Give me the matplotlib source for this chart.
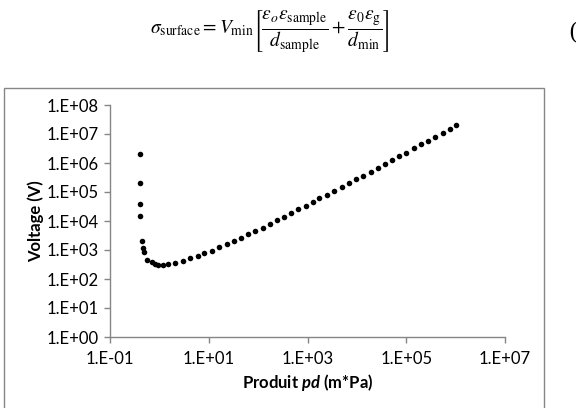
import matplotlib
matplotlib.use('Agg')
import matplotlib.pyplot as plt
import numpy as np
from matplotlib.patches import Rectangle
from matplotlib.ticker import FixedLocator, FuncFormatter, NullLocator

# Courbe de Paschen
pd_values = [0.40, 0.40, 0.40, 0.40, 0.44, 0.46, 0.49, 0.57, 0.70, 0.81, 0.95,
             1.2, 1.5, 2.1, 3.0, 4.2, 6.0, 8.2,
             11.6, 16.3, 23, 32, 45, 63, 87,
             123, 171, 240, 333, 468, 649, 916,
             1270, 1730, 2510, 3480, 4900, 6890, 9550,
             1.34e4, 1.89e4, 2.62e4, 3.69e4, 5.19e4, 7.18e4,
             1.01e5, 1.41e5, 1.98e5, 2.78e5, 3.85e5, 5.43e5, 7.64e5, 1.04e6]
voltage = [2.0e6, 2.0e5, 3.8e4, 1.44e4, 2.1e3, 1.16e3, 838, 467, 376, 330, 313,
           305, 320, 366, 430, 518, 618, 767,
           961, 1250, 1590, 2030, 2660, 3470, 4520,
           5940, 7930, 1.07e4, 1.39e4, 1.87e4, 2.52e4, 3.36e4,
           4.52e4, 6.08e4, 8.1e4, 1.09e5, 1.47e5, 2.03e5, 2.70e5,
           3.64e5, 5.0e5, 6.75e5, 9.3e5, 1.24e6, 1.71e6,
           2.30e6, 3.17e6, 4.38e6, 5.89e6, 8.1e6, 1.12e7, 1.49e7, 2.06e7]

x_ticks = [1e-1, 1e1, 1e3, 1e5, 1e7]
y_ticks = [1e0, 1e1, 1e2, 1e3, 1e4, 1e5, 1e6, 1e7, 1e8]

W, H = 576, 408
axis_grey = '#868686'

plt.rcParams['font.family'] = ['Lato', 'DejaVu Sans']
plt.rcParams['mathtext.fontset'] = 'stix'
# police "custom" seulement pour le pd italique gras de l'etiquette x
plt.rcParams['mathtext.bf'] = 'Lato:italic:bold'
plt.rcParams['mathtext.rm'] = 'Lato:bold'

fig = plt.figure(figsize=(W / 100, H / 100), dpi=100)

# equation du document au-dessus du graphique
fig.text(270 / W, 1 - 32 / H,
         r'$\sigma_{\mathrm{surface}} = V_{\mathrm{min}}'
         r'\left[\dfrac{\varepsilon_o\varepsilon_{\mathrm{sample}}}{d_{\mathrm{sample}}}'
         r' + \dfrac{\varepsilon_0\varepsilon_{\mathrm{g}}}{d_{\mathrm{min}}}\right]$',
         ha='center', va='center', fontsize=14)
fig.text(568 / W, 1 - 32 / H, '(', ha='left', va='center', fontsize=16,
         family='DejaVu Serif')

# cadre du graphique
fig.add_artist(Rectangle((4 / W, -0.02), (544 - 4) / W, 1 - 88 / H + 0.02,
                         transform=fig.transFigure, fill=False,
                         edgecolor=axis_grey, linewidth=1.0))

left, right, top, bottom = 110, 505, 105, 337
ax = fig.add_axes([left / W, 1 - bottom / H, (right - left) / W, (bottom - top) / H])

ax.plot(pd_values, voltage, 'o', color='black', markersize=4, markeredgewidth=0)

ax.set_xscale('log')
ax.set_yscale('log')
ax.set_xlim(1e-1, 1e7)
ax.set_ylim(1e0, 1e8)

fmt = FuncFormatter(lambda v, pos: '1.E%+03d' % int(round(np.log10(v))))
ax.xaxis.set_major_locator(FixedLocator(x_ticks))
ax.yaxis.set_major_locator(FixedLocator(y_ticks))
ax.xaxis.set_minor_locator(NullLocator())
ax.yaxis.set_minor_locator(NullLocator())
ax.xaxis.set_major_formatter(fmt)
ax.yaxis.set_major_formatter(fmt)

for side in ['top', 'right']:
    ax.spines[side].set_visible(False)
for side in ['left', 'bottom']:
    ax.spines[side].set_color(axis_grey)
    ax.spines[side].set_linewidth(1.0)

ax.tick_params(axis='both', direction='out', length=4, width=1.0,
               color=axis_grey, labelsize=12, labelcolor='black')
ax.tick_params(axis='x', pad=6)
ax.tick_params(axis='y', pad=4)

xl = ax.set_xlabel(r'Produit $\mathbf{pd}$ (m*Pa)', fontsize=12, fontweight='bold')
xl.set_math_fontfamily('custom')
ax.set_ylabel('Voltage (V)', fontsize=12, fontweight='bold', labelpad=2)

fig.savefig('out.png', dpi=100)
